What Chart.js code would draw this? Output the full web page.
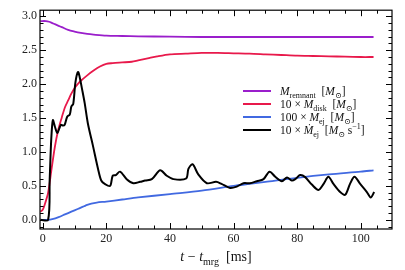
<!DOCTYPE html>
<html>
<head>
<meta charset="utf-8">
<script src="https://cdn.jsdelivr.net/npm/chart.js@4.4.1/dist/chart.umd.min.js"></script>
<style>
  body { margin: 0; background: #fff; }
  #wrap { width: 405px; height: 270px; }
</style>
</head>
<body>
<div id="wrap"><canvas id="chart" width="405" height="270"></canvas></div>
<script>
// remnant mass [Msun]
const tRemnant = [-0.7, 1, 2, 3, 4, 5, 6, 8, 10, 12, 14, 16, 20, 25, 30, 40, 50, 60, 70, 80, 90, 104];
const mRemnant = [2.93, 2.93, 2.92, 2.90, 2.88, 2.86, 2.84, 2.80, 2.775, 2.755, 2.74, 2.73, 2.715, 2.71, 2.705, 2.70, 2.695, 2.695, 2.695, 2.695, 2.695, 2.695];

// 10 x disk mass
const tDisk = [-0.7, 0, 0.6, 1.7, 2.7, 3.8, 4.8, 6, 7, 8, 9, 10, 11, 12, 14, 16, 18, 20, 22, 25, 28, 30, 33, 36, 40, 45, 50, 55, 60, 65, 70, 75, 80, 85, 90, 95, 100, 104];
const mDisk = [0.12, 0.15, 0.22, 0.40, 0.72, 1.07, 1.31, 1.51, 1.66, 1.76, 1.86, 1.94, 2.0, 2.05, 2.13, 2.20, 2.26, 2.30, 2.31, 2.32, 2.33, 2.35, 2.38, 2.41, 2.44, 2.45, 2.46, 2.46, 2.455, 2.45, 2.44, 2.43, 2.42, 2.415, 2.41, 2.405, 2.40, 2.40];

// 100 x ejecta mass
const tEj = [-0.7, 1.7, 3, 5, 7, 9, 11, 12, 13, 14, 15.3, 17, 20, 25, 30, 40, 50, 60, 65, 70, 80, 90, 100, 104];
const mEj = [0.0, 0.0, 0.01, 0.04, 0.08, 0.12, 0.16, 0.18, 0.20, 0.22, 0.24, 0.255, 0.27, 0.30, 0.33, 0.38, 0.43, 0.50, 0.53, 0.56, 0.62, 0.67, 0.71, 0.73];

// 10 x ejecta rate [Msun/s]
const tRate = [-0.7, 1.7, 2.2, 2.7, 3.2, 3.8, 4.6, 5.7, 6.4, 6.9, 7.7, 8.5, 9.0, 9.6, 10.3, 11.1, 11.6, 12.4, 13.2, 14.2, 15.8, 17.4, 18.4, 19.5, 21.2, 22, 23, 24.3, 26.4, 28.5, 30.6, 32.2, 34.3, 36.9, 39, 41.1, 45.1, 45.8, 47.1, 48.9, 51.6, 54.5, 56.2, 58.9, 61, 63.1, 65.1, 67.3, 69.4, 71.3, 73.1, 75.2, 76.8, 78.3, 79.4, 80.9, 82.5, 84.6, 86.7, 88.3, 89.8, 91.4, 93.5, 95.1, 96.6, 98, 99.8, 101.9, 103.1, 104.2];
const mRate = [0.0, 0.0, 0.6, 1.2, 1.47, 1.38, 1.28, 1.40, 1.39, 1.40, 1.52, 1.55, 1.67, 1.71, 2.03, 2.18, 2.11, 1.92, 1.72, 1.42, 1.09, 0.75, 0.58, 0.53, 0.50, 0.65, 0.66, 0.71, 0.60, 0.54, 0.56, 0.58, 0.60, 0.73, 0.65, 0.60, 0.61, 0.75, 0.82, 0.67, 0.54, 0.56, 0.53, 0.47, 0.49, 0.54, 0.54, 0.57, 0.60, 0.71, 0.635, 0.57, 0.625, 0.58, 0.60, 0.66, 0.63, 0.52, 0.44, 0.53, 0.635, 0.53, 0.41, 0.37, 0.53, 0.635, 0.53, 0.41, 0.33, 0.41];

const xTicks = [0, 20, 40, 60, 80, 100];
const yTicks = [0.0, 0.5, 1.0, 1.5, 2.0, 2.5, 3.0];

// legend labels as [text, style] pieces: i = italic, r = roman, sub/sup
const seriesLabels = [
  [['M', 'i'], ['remnant', 'sub'], ['  [', 'r'], ['M', 'i'], ['⊙', 'sub'], [']', 'r']],
  [['10 × ', 'r'], ['M', 'i'], ['disk', 'sub'], ['  [', 'r'], ['M', 'i'], ['⊙', 'sub'], [']', 'r']],
  [['100 × ', 'r'], ['M', 'i'], ['ej', 'sub'], ['  [', 'r'], ['M', 'i'], ['⊙', 'sub'], [']', 'r']],
  [['10 × ', 'r'], ['Ṁ', 'i'], ['ej', 'sub'], ['  [', 'r'], ['M', 'i'], ['⊙', 'sub'], [' s', 'r'], ['−1', 'sup'], [']', 'r']]
];
const xTitle = [['t', 'i'], [' − ', 'r'], ['t', 'i'], ['mrg', 'sub'], ['  [ms]', 'r']];
const colors = ['#9a1ecb', '#e8194b', '#4169e1', '#000000'];

const FONT = '"Liberation Serif", "DejaVu Serif", serif';

function pts(xs, ys) {
  return xs.map((x, i) => ({x: x, y: ys[i]}));
}

function fontFor(style, size) {
  if (style == 'i') return 'italic ' + size + 'px ' + FONT;
  if (style == 'sub' || style == 'sup') return Math.round(size * 0.72) + 'px ' + FONT;
  return size + 'px ' + FONT;
}

function richWidth(ctx, parts, size) {
  let w = 0;
  parts.forEach(p => {
    ctx.font = fontFor(p[1], size);
    w += ctx.measureText(p[0]).width;
  });
  return w;
}

function drawRich(ctx, parts, x, y, size) {
  ctx.textBaseline = 'alphabetic';
  ctx.textAlign = 'left';
  ctx.fillStyle = '#111';
  parts.forEach(p => {
    ctx.font = fontFor(p[1], size);
    let dy = 0;
    if (p[1] == 'sub') dy = size * 0.25;
    if (p[1] == 'sup') dy = -size * 0.4;
    ctx.fillText(p[0], x, y + dy);
    x += ctx.measureText(p[0]).width;
  });
}

// frame, inward ticks on all four sides, legend and x title
const decor = {
  id: 'decor',
  afterDraw(chart) {
    const ctx = chart.ctx;
    const a = chart.chartArea;
    const xs = chart.scales.x, ys = chart.scales.y;
    ctx.save();
    ctx.strokeStyle = '#000';
    ctx.lineWidth = 1;
    const majLen = 6, minLen = 3.5;

    function xTick(v, len) {
      const px = Math.round(xs.getPixelForValue(v)) + 0.5;
      ctx.beginPath();
      ctx.moveTo(px, a.bottom); ctx.lineTo(px, a.bottom - len);
      ctx.moveTo(px, a.top); ctx.lineTo(px, a.top + len);
      ctx.stroke();
    }
    function yTick(v, len) {
      const py = Math.round(ys.getPixelForValue(v)) + 0.5;
      ctx.beginPath();
      ctx.moveTo(a.left, py); ctx.lineTo(a.left + len, py);
      ctx.moveTo(a.right, py); ctx.lineTo(a.right - len, py);
      ctx.stroke();
    }
    for (let v = 0; v <= xs.max; v += 5) {
      xTick(v, xTicks.includes(v) ? majLen : minLen);
    }
    for (let k = -1; k * 0.1 <= ys.max; k++) {
      const v = k / 10;
      if (v < ys.min) continue;
      yTick(v, k % 5 == 0 ? majLen : minLen);
    }

    ctx.lineWidth = 1.2;
    ctx.strokeRect(a.left, a.top, a.right - a.left, a.bottom - a.top);

    // legend
    const lx0 = 243, lx1 = 271, ly0 = 91, dy = 13;
    seriesLabels.forEach((parts, i) => {
      const y = ly0 + i * dy;
      ctx.strokeStyle = colors[i];
      ctx.lineWidth = 2;
      ctx.beginPath();
      ctx.moveTo(lx0, y); ctx.lineTo(lx1, y);
      ctx.stroke();
      drawRich(ctx, parts, 280, y + 4, 11.5);
    });

    // x axis title
    const w = richWidth(ctx, xTitle, 14);
    drawRich(ctx, xTitle, (a.left + a.right) / 2 - w / 2, 261, 14);
    ctx.restore();
  }
};

const lineStyle = {showLine: true, pointRadius: 0, borderWidth: 1.8, tension: 0.3, fill: false};

new Chart(document.getElementById('chart'), {
  type: 'scatter',
  data: {
    datasets: [
      Object.assign({label: 'remnant', data: pts(tRemnant, mRemnant), borderColor: colors[0], order: 3}, lineStyle),
      Object.assign({label: 'disk', data: pts(tDisk, mDisk), borderColor: colors[1], order: 2}, lineStyle),
      Object.assign({label: 'ej', data: pts(tEj, mEj), borderColor: colors[2], order: 1}, lineStyle),
      Object.assign({label: 'rate', data: pts(tRate, mRate), borderColor: colors[3], order: 0}, lineStyle, {borderWidth: 2})
    ]
  },
  options: {
    responsive: false,
    animation: false,
    layout: {padding: {top: 7, right: 13, left: 0, bottom: 0}},
    plugins: {legend: {display: false}, tooltip: {enabled: false}},
    scales: {
      x: {
        type: 'linear',
        min: -0.85,
        max: 109.8,
        grid: {display: false, drawTicks: false},
        border: {display: false},
        afterBuildTicks: s => { s.ticks = xTicks.map(v => ({value: v})); },
        afterFit: s => { s.height = 41; },
        ticks: {color: '#222', padding: 3, maxRotation: 0, font: {family: FONT, size: 12},
                callback: v => String(v)}
      },
      y: {
        type: 'linear',
        min: -0.135,
        max: 3.09,
        grid: {display: false, drawTicks: false},
        border: {display: false},
        afterBuildTicks: s => { s.ticks = yTicks.map(v => ({value: v})); },
        afterFit: s => { s.width = 40; },
        ticks: {color: '#222', padding: 3, font: {family: FONT, size: 12},
                callback: v => v.toFixed(1)}
      }
    }
  },
  plugins: [decor]
});
</script>
</body>
</html>
